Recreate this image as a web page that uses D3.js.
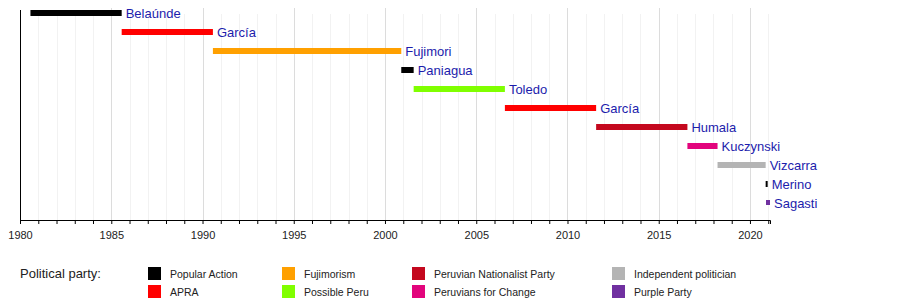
<!DOCTYPE html>
<html>
<head>
<meta charset="utf-8">
<script src="https://cdn.jsdelivr.net/npm/d3@7"></script>
<style>
  body { margin: 0; background: #fff; }
  text { font-family: "Liberation Sans", Arial, sans-serif; }
</style>
</head>
<body>
<div class="chart"></div>
<script>
// Presidents of Peru timeline

// presidents, in order, with term dates
var names = ["Belaúnde", "García", "Fujimori", "Paniagua", "Toledo", "García",
             "Humala", "Kuczynski", "Vizcarra", "Merino", "Sagasti"];
var starts = ["1980-07-28", "1985-07-28", "1990-07-28", "2000-11-22", "2001-07-28", "2006-07-28",
              "2011-07-28", "2016-07-28", "2018-03-23", "2020-11-10", "2020-11-17"];
var ends = ["1985-07-28", "1990-07-28", "2000-11-22", "2001-07-28", "2006-07-28", "2011-07-28",
            "2016-07-28", "2018-03-23", "2020-11-10", "2020-11-15", "2021-02-05"];
var parties = ["Popular Action", "APRA", "Fujimorism", "Popular Action", "Possible Peru", "APRA",
               "Peruvian Nationalist Party", "Peruvians for Change", "Independent politician",
               "Popular Action", "Purple Party"];

// legend entries (column order)
var partyNames = ["Popular Action", "APRA", "Fujimorism", "Possible Peru",
                  "Peruvian Nationalist Party", "Peruvians for Change",
                  "Independent politician", "Purple Party"];
var partyColors = ["#000000", "#ff0000", "#ffa000", "#80ff00",
                   "#c4081e", "#e2047c", "#b4b4b4", "#7030a0"];

var axisStart = "1980-01-01";
var axisEnd = "2021-02-05";

var svgWidth = 900;
var svgHeight = 300;

var parse = d3.timeParse("%Y-%m-%d");

var svg = d3.select(".chart")
    .append("svg")
    .attr("width", svgWidth)
    .attr("height", svgHeight);

var x = d3.scaleTime()
    .domain([parse(axisStart), parse(axisEnd)])
    .range([20, 770]);

var y = d3.scalePoint()
    .domain(d3.range(names.length))
    .range([13, 203]);

var color = d3.scaleOrdinal()
    .domain(partyNames)
    .range(partyColors);

var axisY = 220;

// grid lines, every year (darker every 5 years)
var years = d3.timeYear.range(parse("1981-01-01"), parse(axisEnd));
svg.append("g")
    .selectAll("line")
    .data(years)
    .enter()
    .append("line")
    .attr("x1", d => Math.round(x(d)) + 0.5)
    .attr("x2", d => Math.round(x(d)) + 0.5)
    .attr("y1", d => d.getFullYear() % 5 == 0 ? 8 : 14)
    .attr("y2", axisY)
    .attr("stroke", d => d.getFullYear() % 5 == 0 ? "#dcdcdc" : "#f2f2f2")
    .attr("stroke-width", 1);

// left line
svg.append("line")
    .attr("x1", 20.5).attr("x2", 20.5)
    .attr("y1", 10).attr("y2", axisY)
    .attr("stroke", "#000");

// bottom axis
var bottomAxis = d3.axisBottom(x)
    .ticks(d3.timeYear.every(1))
    .tickSizeInner(4)
    .tickSizeOuter(4)
    .tickFormat(d => d.getFullYear() % 5 == 0 ? d.getFullYear() : "");

var axisG = svg.append("g")
    .attr("transform", `translate(0, ${axisY})`)
    .call(bottomAxis);
axisG.select(".domain").attr("stroke", "#000");
axisG.selectAll(".tick line").attr("stroke", "#000");
axisG.selectAll(".tick text")
    .attr("y", 11)
    .attr("fill", "#222")
    .style("font-family", "Liberation Sans, Arial, sans-serif")
    .style("font-size", "11px");

// term bars
var rows = names.map((n, i) => ({
    name: n, start: parse(starts[i]), end: parse(ends[i]), party: parties[i], i: i
}));

svg.append("g")
    .selectAll("rect")
    .data(rows)
    .enter()
    .append("rect")
    .attr("x", d => x(d.start))
    .attr("y", d => y(d.i) - 3)
    .attr("width", d => Math.max(2, x(d.end) - x(d.start)))
    .attr("height", d => d.party == "Purple Party" ? 5 : 6)
    .attr("fill", d => color(d.party));

svg.append("g")
    .selectAll("text")
    .data(rows)
    .enter()
    .append("text")
    .attr("x", d => Math.max(x(d.start) + 2, x(d.end)) + 4)
    .attr("y", d => y(d.i) + 4.5)
    .attr("fill", "#1c1cac")
    .style("font-size", "13px")
    .text(d => d.name);

// legend
svg.append("text")
    .attr("x", 20)
    .attr("y", 278)
    .attr("fill", "#222")
    .style("font-size", "13px")
    .text("Political party:");

var colX = [148, 282, 412, 612];
var legend = svg.append("g")
    .selectAll("g")
    .data(partyNames)
    .enter()
    .append("g")
    .attr("transform", (d, i) => `translate(${colX[Math.floor(i / 2)]}, ${i % 2 == 0 ? 267 : 285})`);

legend.append("rect")
    .attr("width", 13)
    .attr("height", 13)
    .attr("fill", d => color(d));

legend.append("text")
    .attr("x", 22)
    .attr("y", 11)
    .attr("fill", "#222")
    .style("font-size", "10.5px")
    .text(d => d);
</script>
</body>
</html>
